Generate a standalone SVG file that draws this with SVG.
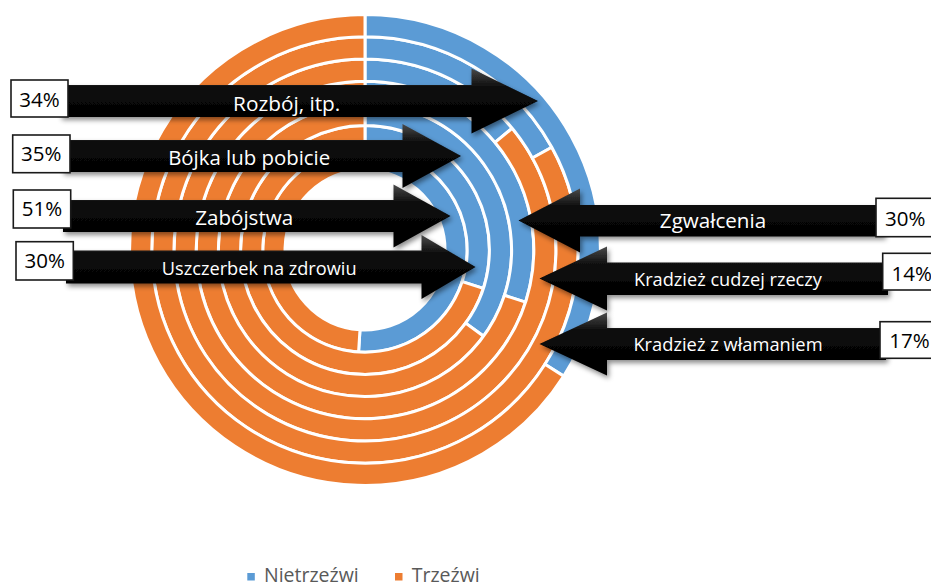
<svg xmlns="http://www.w3.org/2000/svg" width="931" height="586" viewBox="0 0 931 586">
<style>
.blue{fill:#5B9BD5}
.orange{fill:#ED7D31}
.seg{stroke:#fff;stroke-width:3}
.arrow{fill:url(#ag);filter:url(#sh)}
.lbl{font-family:"Open Sans",sans-serif;fill:#fff;text-anchor:middle}
.box{fill:#fff;stroke:#1a1a1a;stroke-width:1.6}
.pct{font-family:"Open Sans",sans-serif;font-size:20.5px;fill:#000}
.leg{font-family:"Open Sans",sans-serif;font-size:19.5px;fill:#595959}
</style>
<defs>
<linearGradient id="ag" x1="0" y1="0" x2="0" y2="1">
<stop offset="0" stop-color="#4a4a4a"/>
<stop offset="0.3" stop-color="#0a0a0a"/>
<stop offset="1" stop-color="#000"/>
</linearGradient>
<filter id="sh" x="-10%" y="-20%" width="120%" height="150%">
<feDropShadow dx="2" dy="3" stdDeviation="2.5" flood-color="#000" flood-opacity="0.45"/>
</filter>
</defs>
<rect width="931" height="586" fill="#fff"/>
<g id="rings">
<g id="ring1">
<path class="blue seg" d="M365,147.8 A102.2,102.2 0 1 1 358.58,352.0 L359.98,329.84 A80,80 0 1 0 365,170 Z"/>
<path class="orange seg" d="M358.58,352.0 A102.2,102.2 0 0 1 365,147.8 L365,170 A80,80 0 0 0 359.98,329.84 Z"/>
</g>
<g id="ring2">
<path class="blue seg" d="M365,125.6 A124.4,124.4 0 0 1 483.32,288.44 L462.20,281.58 A102.2,102.2 0 0 0 365,147.8 Z"/>
<path class="orange seg" d="M483.32,288.44 A124.4,124.4 0 1 1 365,125.6 L365,147.8 A102.2,102.2 0 1 0 462.20,281.58 Z"/>
</g>
<g id="ring3">
<path class="blue seg" d="M365,103.4 A146.6,146.6 0 0 1 483.60,336.17 L465.64,323.12 A124.4,124.4 0 0 0 365,125.6 Z"/>
<path class="orange seg" d="M483.60,336.17 A146.6,146.6 0 1 1 365,103.4 L365,125.6 A124.4,124.4 0 1 0 465.64,323.12 Z"/>
</g>
<g id="ring4">
<path class="blue seg" d="M365,81.2 A168.8,168.8 0 0 1 525.55,302.16 L504.43,295.30 A146.6,146.6 0 0 0 365,103.4 Z"/>
<path class="orange seg" d="M525.55,302.16 A168.8,168.8 0 1 1 365,81.2 L365,103.4 A146.6,146.6 0 1 0 504.43,295.30 Z"/>
</g>
<g id="ring5">
<path class="blue seg" d="M365,59 A191,191 0 0 1 512.17,128.26 L495.06,142.41 A168.8,168.8 0 0 0 365,81.2 Z"/>
<path class="orange seg" d="M512.17,128.26 A191,191 0 1 1 365,59 L365,81.2 A168.8,168.8 0 1 0 495.06,142.41 Z"/>
</g>
<g id="ring6">
<path class="blue seg" d="M365,36.8 A213.2,213.2 0 0 1 551.83,147.28 L532.37,157.98 A191,191 0 0 0 365,59 Z"/>
<path class="orange seg" d="M551.83,147.28 A213.2,213.2 0 1 1 365,36.8 L365,59 A191,191 0 1 0 532.37,157.98 Z"/>
</g>
<g id="ring7">
<path class="blue seg" d="M365,14.6 A235.4,235.4 0 0 1 563.75,376.13 L545.00,364.23 A213.2,213.2 0 0 0 365,36.8 Z"/>
<path class="orange seg" d="M563.75,376.13 A235.4,235.4 0 1 1 365,14.6 L365,36.8 A213.2,213.2 0 1 0 545.00,364.23 Z"/>
</g>
</g>
<g id="connectors"></g>
<g id="callout-rozboj">
<polygon class="arrow" points="60,85 471.5,85 471.5,68.5 538,101 471.5,133.5 471.5,117 60,117"/>
<text class="lbl" x="286.7" y="111" font-size="20.8">Rozbój, itp.</text>
<rect class="box" x="11" y="80" width="57" height="37"/>
<text class="pct" x="39.5" y="106.7" text-anchor="middle">34%</text>
</g>
<g id="callout-bojka">
<polygon class="arrow" points="62,140 402.5,140 402.5,124 461,156 402.5,188 402.5,172 62,172"/>
<text class="lbl" x="249.2" y="165" font-size="20.4">Bójka lub pobicie</text>
<rect class="box" x="12.7" y="135" width="57.3" height="37.7"/>
<text class="pct" x="41.3" y="161" text-anchor="middle">35%</text>
</g>
<g id="callout-zabojstwa">
<polygon class="arrow" points="63,200 393.5,200 393.5,184.5 450.5,216 393.5,247.5 393.5,232 63,232"/>
<text class="lbl" x="244.2" y="225" font-size="20.6">Zabójstwa</text>
<rect class="box" x="13.3" y="190" width="57.4" height="38"/>
<text class="pct" x="42" y="216" text-anchor="middle">51%</text>
</g>
<g id="callout-uszczerbek">
<polygon class="arrow" points="66,250.5 421.5,250.5 421.5,235 475.5,267 421.5,299 421.5,283.5 66,283.5"/>
<text class="lbl" x="259.2" y="275" font-size="18.2">Uszczerbek na zdrowiu</text>
<rect class="box" x="16" y="241.7" width="57.3" height="38.3"/>
<text class="pct" x="44.7" y="267.7" text-anchor="middle">30%</text>
</g>
<g id="callout-zgwalcenia">
<polygon class="arrow" points="518.5,220.5 580,188.5 580,205 884,205 884,236.5 580,236.5 580,252.5"/>
<text class="lbl" x="713" y="228.3" font-size="20.6">Zgwałcenia</text>
<rect class="box" x="876" y="198.3" width="62" height="38.4"/>
<text class="pct" x="885" y="225.5">30%</text>
</g>
<g id="callout-kradziez">
<polygon class="arrow" points="539.5,278.5 607,246.5 607,262.5 888,262.5 888,295 607,295 607,310.5"/>
<text class="lbl" x="728" y="286" font-size="18.2">Kradzież cudzej rzeczy</text>
<rect class="box" x="882.7" y="253.3" width="56" height="36.7"/>
<text class="pct" x="891.5" y="280.7">14%</text>
</g>
<g id="callout-wlamanie">
<polygon class="arrow" points="539.5,344 607,312.5 607,328 886,328 886,360 607,360 607,375.5"/>
<text class="lbl" x="728" y="351" font-size="18.3">Kradzież z włamaniem</text>
<rect class="box" x="880" y="321.7" width="56" height="36.6"/>
<text class="pct" x="889.3" y="348.3">17%</text>
</g>
<g id="legend">
<rect class="blue" x="247.3" y="573" width="7.5" height="7.5"/>
<text class="leg" x="264" y="581.5">Nietrzeźwi</text>
<rect class="orange" x="395" y="573" width="7.5" height="7.5"/>
<text class="leg" x="411.7" y="581.5">Trzeźwi</text>
</g>
</svg>
